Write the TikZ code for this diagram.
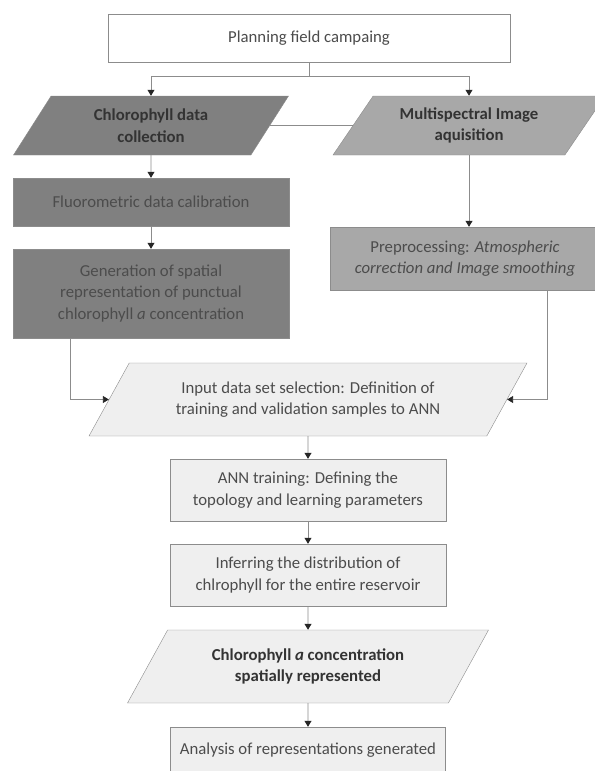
\documentclass[tikz,border=0pt]{standalone}
\usepackage{fontspec}
\setmainfont{Carlito}
\usetikzlibrary{shapes.geometric,arrows.meta}
\definecolor{darkfill}{HTML}{808080}
\definecolor{midfill}{HTML}{A8A8A8}
\definecolor{lightfill}{HTML}{EFEFEF}
\definecolor{linegray}{HTML}{8C8C8C}
\definecolor{textgray}{HTML}{4C4C4C}
\definecolor{boldgray}{HTML}{333333}
\begin{document}
\begin{tikzpicture}[x=1bp, y=-1bp, font=\fontsize{16.8}{21.8}\selectfont,
    every node/.style={draw=linegray, align=center, text=textgray, inner sep=2bp},
    box/.style={rectangle, minimum height=48bp},
    slanted/.style={trapezium, trapezium left angle=45, trapezium right angle=135, trapezium stretches body},
    title/.style={font=\fontsize{16.8}{21.8}\selectfont\bfseries, text=boldgray},
    line/.style={draw=linegray, line width=0.8bp},
    >={Triangle[width=7bp,length=6bp,color=black!85]}]
        \useasboundingbox (0,0) rectangle (595,771);
        \clip (0,0) rectangle (595,771);

        \node[box, fill=white, minimum width=402bp] (plan) at (309,38) {Planning field campaing};
        \node[slanted, title, fill=darkfill, minimum width=275bp, minimum height=59bp] (chlcol) at (151,125.5) {Chlorophyll data\\collection};
        \node[slanted, title, fill=midfill, minimum width=272bp, minimum height=59bp] (msi) at (469,125.5) {Multispectral Image\\aquisition};
        \node[box, fill=darkfill, minimum width=276bp] (fluoro) at (151,202) {Fluorometric data calibration};
        \node[box, fill=darkfill, minimum width=276bp, minimum height=89bp] (gen) at (151,293.5) {Generation of spatial\\representation of punctual\\chlorophyll \textit{a} concentration};
        \node[box, fill=midfill, minimum width=270bp, minimum height=63bp] (pre) at (465,258.5) {Preprocessing: \textit{Atmospheric}\\\textit{correction and Image smoothing}};
        \node[slanted, fill=lightfill, minimum width=438bp, minimum height=73bp] (input) at (308,399.5) {Input data set selection: Definition of\\training and validation samples to ANN};
        \node[box, fill=lightfill, minimum width=276bp, minimum height=62bp] (ann) at (308,490) {ANN training: Defining the\\topology and learning parameters};
        \node[box, fill=lightfill, minimum width=276bp, minimum height=62bp] (infer) at (308,575) {Inferring the distribution of\\chlrophyll for the entire reservoir};
        \node[slanted, title, fill=lightfill, minimum width=361bp, minimum height=73bp] (chla) at (308,666.5) {Chlorophyll \textit{a} concentration\\spatially represented};
        \node[box, fill=lightfill, minimum width=275bp, minimum height=46bp] (analysis) at (308,750) {Analysis of representations generated};

        \coordinate (split) at (309,76);
        \draw[line] (plan) -- (split);
        \draw[line,->] (split) -| (chlcol.north);
        \draw[line,->] (split) -| (msi.north);
        \draw[line] (chlcol) -- (msi);
        \draw[line,->] (chlcol) -- (fluoro);
        \draw[line,->] (fluoro) -- (gen);
        \draw[line,->] (msi.south) -- (msi.south |- pre.north);
        \draw[line,->] ([xshift=58bp]gen.south west) |- (input.west);
        \draw[line,->] ([xshift=-53bp]pre.south east) |- (input.east);
        \draw[line,->] (input) -- (ann);
        \draw[line,->] (ann) -- (infer);
        \draw[line,->] (infer) -- (chla);
        \draw[line,->] (chla) -- (analysis);
    \end{tikzpicture}
\end{document}
